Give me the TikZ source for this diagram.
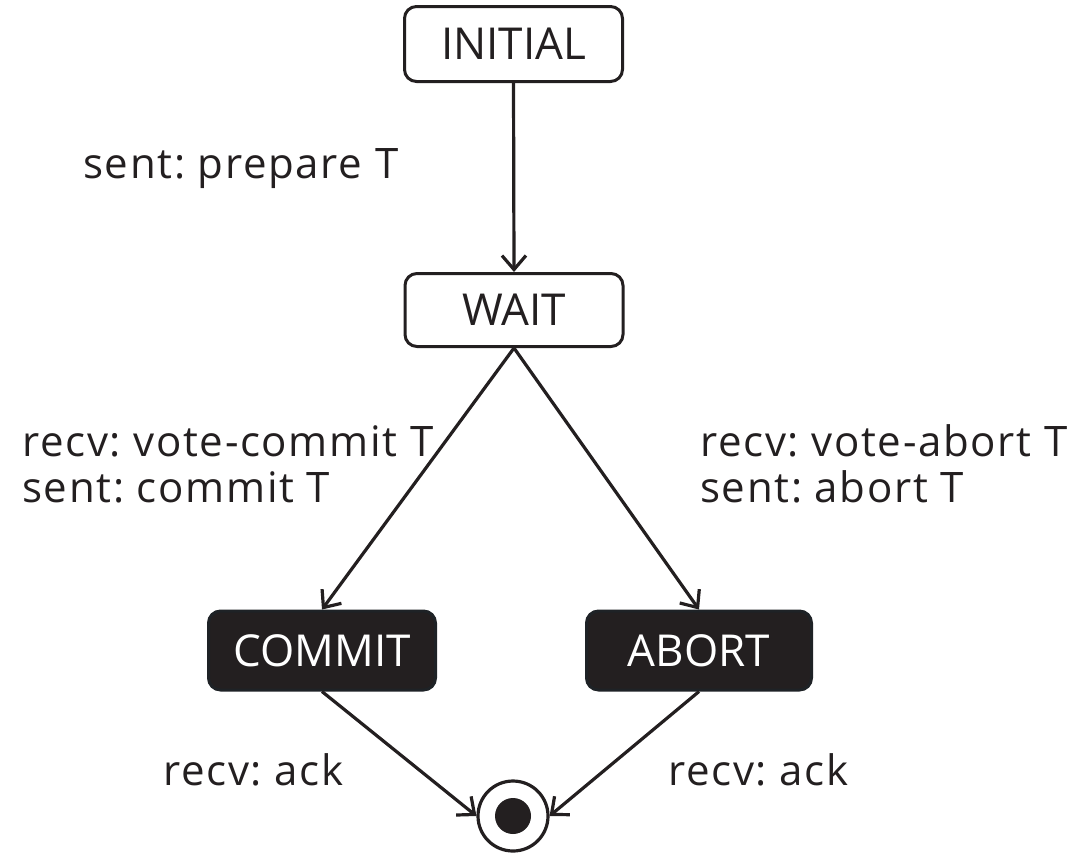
\documentclass[tikz,border=0pt]{standalone}
\usepackage{fontspec}
\setmainfont{Open Sans}
\newfontfamily\lblfont[LetterSpace=4]{Open Sans}
\usetikzlibrary{arrows.meta}
\definecolor{ink}{HTML}{231F20}
\definecolor{edge}{HTML}{1E2226}
\frenchspacing
\begin{document}
\begin{tikzpicture}[x=1pt,y=-1pt,
  state/.style={draw=ink,line width=3pt,rounded corners=12pt,fill=white,text=ink,
    font=\fontsize{44}{52}\selectfont,inner sep=0pt},
  endstate/.style={draw=edge,line width=3pt,rounded corners=12pt,fill=ink,text=white,
    font=\fontsize{44}{52}\selectfont,inner sep=0pt},
  lbl/.style={anchor=base west,text=ink,font=\lblfont\fontsize{42}{50}\selectfont,inner sep=0pt},
  trans/.style={draw=ink,line width=3.2pt,-{Straight Barb[length=14pt,width=24pt,line width=3.2pt]}}]
\useasboundingbox (0,0) rectangle (1089,855);
\node[state,minimum width=218pt,minimum height=75pt] (init) at (513.5,44) {INITIAL};
\node[state,minimum width=218pt,minimum height=73pt] (wait) at (514,310) {WAIT};
\node[endstate,minimum width=227pt,minimum height=79pt] (commit) at (322,650.5) {COMMIT};
\node[endstate,minimum width=225pt,minimum height=79pt] (abort) at (699,650.5) {ABORT};
\node[circle,draw=ink,line width=3.2pt,fill=white,minimum size=70pt,inner sep=0pt] (final) at (513,816) {};
\node[circle,fill=ink,minimum size=36pt,inner sep=0pt] (dot) at (final.center) {};
\draw[trans] (init.south) -- (wait.north);
\draw[trans] (wait.south) -- (commit.north);
\draw[trans] (wait.south) -- (abort.north);
\draw[trans] (commit.south) -- (final.west);
\draw[trans] (abort.south) -- (final.east);
\node[lbl] (l1) at (83,178) {sent: prepare T};
\node[lbl] (l2) at (22,456) {recv: vote-commit T};
\node[lbl] (l3) at (22,502) {sent: commit T};
\node[lbl] (l4) at (700,456) {recv: vote-abort T};
\node[lbl] (l5) at (700,502) {sent: abort T};
\node[lbl] (l6) at (163,785) {recv: ack};
\node[lbl] (l7) at (668,785) {recv: ack};
\end{tikzpicture}
\end{document}
